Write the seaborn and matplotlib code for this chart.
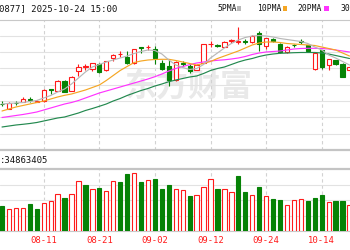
import matplotlib
matplotlib.use("Agg")
import matplotlib.pyplot as plt
import matplotlib.transforms as mtransforms
from matplotlib.patches import Rectangle
import numpy as np
import pandas as pd
import seaborn as sns

# ---------------- data ----------------
dates = ["08-01", "08-04", "08-05", "08-06", "08-07", "08-08",
         "08-11", "08-12", "08-13", "08-14", "08-15",
         "08-18", "08-19", "08-20", "08-21", "08-22",
         "08-25", "08-26", "08-27", "08-28", "08-29",
         "09-01", "09-02", "09-03", "09-04", "09-05",
         "09-08", "09-09", "09-10", "09-11", "09-12",
         "09-15", "09-16", "09-17", "09-18", "09-19",
         "09-22", "09-23", "09-24", "09-25", "09-26",
         "09-29", "09-30", "10-09", "10-10",
         "10-13", "10-14", "10-15", "10-16", "10-17", "10-20"]

opens = [14.65, 14.15, 14.75, 14.85, 15.07, 14.85, 14.87, 16.05, 15.93, 16.93,
         15.93, 17.93, 18.35, 18.13, 18.6, 18.0, 19.17, 19.6, 19.33, 18.7,
         20.25, 20.28, 20.1, 18.75, 18.4, 17.05, 18.7, 18.35, 18.05, 18.75,
         20.6, 20.5, 20.35, 20.9, 20.8, 20.9, 20.8, 21.73, 20.45, 21.07,
         20.63, 19.78, 20.53, 20.85, 20.5, 18.07, 20.0, 18.55, 18.97, 18.63, 18.0]
highs = [14.9, 14.8, 14.95, 15.3, 15.3, 15.0, 16.1, 16.1, 17.0, 17.0,
         17.4, 18.6, 18.65, 18.75, 18.7, 18.95, 19.65, 19.95, 19.95, 20.15,
         20.3, 20.55, 20.4, 19.0, 19.0, 18.9, 18.9, 18.65, 18.6, 20.6,
         20.9, 20.6, 20.9, 21.15, 22.3, 21.15, 21.5, 21.95, 21.25, 21.2,
         20.7, 20.4, 20.65, 21.15, 20.55, 19.7, 20.05, 19.1, 19.05, 18.7, 18.4]
lows = [14.4, 14.1, 14.5, 14.8, 14.8, 14.8, 14.8, 15.65, 15.9, 15.8,
        15.9, 17.4, 18.05, 17.95, 17.7, 17.95, 18.95, 19.3, 18.65, 18.65,
        19.75, 20.0, 18.6, 18.0, 16.4, 16.95, 18.4, 17.7, 18.0, 18.7,
        20.35, 20.3, 20.3, 20.7, 20.6, 20.6, 20.7, 19.9, 20.1, 20.8,
        19.75, 19.7, 20.35, 20.65, 19.8, 18.05, 18.07, 18.0, 18.55, 17.3, 17.9]
closes = [14.6, 14.75, 14.7, 15.15, 15.0, 14.9, 16.0, 15.97, 16.93, 15.85,
          17.33, 18.33, 18.4, 18.67, 17.83, 18.87, 19.5, 19.65, 18.73, 20.1,
          20.2, 20.33, 19.2, 18.1, 17.0, 18.8, 18.65, 17.95, 18.5, 20.57,
          20.65, 20.43, 20.82, 20.95, 20.85, 20.85, 21.4, 20.6, 21.17, 20.9,
          19.8, 20.33, 20.47, 20.8, 19.9, 19.67, 18.33, 19.07, 18.6, 17.33, 18.3]

ma5 = [14.6, 14.65, 14.7, 14.75, 14.85, 14.95, 15.2, 15.45, 15.8, 16.1,
       16.6, 17.2, 17.8, 18.3, 18.55, 18.8, 19.0, 19.2, 19.4, 19.65,
       19.85, 20.0, 19.95, 19.6, 19.0, 18.5, 18.25, 18.05, 18.15, 18.55,
       19.2, 19.7, 20.2, 20.65, 21.0, 21.25, 21.4, 21.45, 21.4, 21.3,
       21.15, 21.05, 20.95, 20.85, 20.65, 20.3, 20.0, 19.5, 19.2, 18.85, 18.5]
ma10 = [13.9, 14.1, 14.3, 14.45, 14.6, 14.75, 14.9, 15.1, 15.3, 15.47,
        15.6, 15.8, 16.0, 16.25, 16.5, 16.95, 17.45, 17.95, 18.35, 18.75,
        18.9, 19.0, 19.05, 19.07, 19.07, 18.95, 18.8, 18.65, 18.5, 18.65,
        18.85, 19.15, 19.4, 19.65, 19.9, 20.2, 20.5, 20.7, 20.8, 20.8,
        20.75, 20.65, 20.6, 20.55, 20.5, 20.45, 20.3, 20.15, 20.0, 19.7, 19.4]
ma20 = [13.25, 13.35, 13.45, 13.55, 13.67, 13.8, 14.0, 14.2, 14.4, 14.6,
        14.75, 14.95, 15.2, 15.45, 15.7, 15.9, 16.1, 16.3, 16.5, 16.7,
        16.9, 17.1, 17.33, 17.6, 17.9, 18.15, 18.35, 18.53, 18.7, 18.8,
        18.9, 18.97, 19.02, 19.1, 19.2, 19.35, 19.55, 19.7, 19.8, 19.85,
        19.9, 20.0, 20.1, 20.15, 20.17, 20.17, 20.15, 20.1, 20.0, 19.9, 19.8]
ma30 = [12.3, 12.4, 12.5, 12.57, 12.65, 12.75, 12.9, 13.05, 13.2, 13.3,
        13.5, 13.7, 13.95, 14.15, 14.37, 14.6, 14.9, 15.15, 15.45, 15.7,
        15.95, 16.15, 16.4, 16.6, 16.83, 17.0, 17.15, 17.3, 17.4, 17.65,
        17.95, 18.15, 18.3, 18.55, 18.8, 19.0, 19.15, 19.35, 19.5, 19.6,
        19.67, 19.7, 19.73, 19.75, 19.75, 19.75, 19.7, 19.6, 19.45, 19.3, 19.15]

volumes = [25.5, 21.7, 23.5, 23.5, 27.5, 21.7, 28, 30, 36.8, 33.3,
           36.8, 49.7, 45.7, 41.7, 42.8, 39.7, 49.7, 49, 57, 57.7,
           49, 50.8, 52.5, 42.5, 46.5, 42.5, 41.5, 34.7, 36.5, 44.3,
           51.7, 41.7, 42, 39.5, 55.4, 38.7, 36, 44, 35.4, 32.4,
           31.4, 26.4, 31.4, 32.4, 30, 33.4, 36, 28.7, 30, 30, 26.4]  # millions
vol_dir = ["g", "r", "r", "r", "g", "g", "r", "r", "r", "g",
           "r", "r", "g", "r", "g", "r", "r", "g", "g", "r",
           "g", "r", "g", "g", "g", "r", "r", "g", "r", "r",
           "r", "g", "r", "r", "g", "g", "r", "g", "r", "g",
           "g", "r", "r", "r", "g", "g", "g", "r", "g", "g", "r"]

tick_labels = ["08-11", "08-21", "09-02", "09-12", "09-24", "10-14"]

header_left = "0877] 2025-10-24 15:00"
legend_names = ["5PMA", "10PMA", "20PMA", "30"]
vol_text = ":34863405"
watermark = "东方财富"

# ---------------- style ----------------
RED = "#ff1a1a"
GREEN = "#068206"
C_MA5 = "#b8b8b8"
C_MA10 = "#f5a623"
C_MA20 = "#ff33ff"
C_MA30 = "#23894f"
GRID = "#e2e2e2"
VGRID = "#d2d2d2"
MONO = "DejaVu Sans Mono"

sns.set_style("white")
plt.rcParams["font.family"] = ["DejaVu Sans", "Noto Sans CJK SC"]

df = pd.DataFrame({"idx": np.arange(len(opens)), "date": dates, "open": opens,
                   "high": highs, "low": lows, "close": closes, "ma5": ma5,
                   "ma10": ma10, "ma20": ma20, "ma30": ma30, "vol": volumes,
                   "vdir": vol_dir})
tick_index = [dates.index(t) for t in tick_labels]

W, H = 350, 250
fig = plt.figure(figsize=(3.5, 2.5), dpi=100)
ax = fig.add_axes([0, 1 - 150 / H, 1, 130.5 / H])
axv = fig.add_axes([0, 1 - 231 / H, 1, 62 / H])

XLIM = (-0.29, 50.07)
YLIM = (10.0, 23.05)

for a in (ax, axv):
    a.set_xlim(*XLIM)
    a.set_facecolor("white")
    for s in ("left", "right"):
        a.spines[s].set_visible(False)
    a.tick_params(length=0, labelbottom=False, labelleft=False)
    a.set_xticks(tick_index)
    a.grid(axis="x", color=VGRID, lw=0.8, ls=(0, (3, 2.5)))
    a.grid(axis="y", color=GRID, lw=0.8)
    a.set_axisbelow(True)

ax.set_ylim(*YLIM)
ax.set_yticks(np.linspace(YLIM[0], YLIM[1], 9)[1:-1])
ax.spines["top"].set_color("#c8c8c8")
ax.spines["top"].set_linewidth(0.8)
ax.spines["bottom"].set_color("#c4c4c4")
ax.spines["bottom"].set_linewidth(1.6)

axv.set_ylim(0, 62)
axv.set_yticks([15.5, 31, 46.5])
axv.spines["top"].set_color("#c4c4c4")
axv.spines["top"].set_linewidth(1.6)
axv.spines["bottom"].set_color("#c8c8c8")
axv.spines["bottom"].set_linewidth(0.8)

# watermark
ax.text(26.8, 16.2, watermark, ha="center", va="center", fontsize=23,
        fontweight="bold", color="#e9e9e9", family=["Noto Sans CJK SC"],
        style="italic", zorder=0.5)

# candles
up = df["close"] >= df["open"]
ccol = np.where(up, RED, GREEN)
ax.vlines(df["idx"], df["low"], df["high"], colors=ccol, lw=0.8, zorder=2)
body_lo = np.minimum(df["open"], df["close"])
body_h = np.maximum(np.abs(df["close"] - df["open"]), 0.04)
ax.bar(df["idx"], body_h, bottom=body_lo, width=0.62,
       color=np.where(up, "white", GREEN), edgecolor=ccol, lw=0.8, zorder=3)

# moving averages
for col, c in (("ma30", C_MA30), ("ma20", C_MA20), ("ma10", C_MA10), ("ma5", C_MA5)):
    sns.lineplot(data=df, x="idx", y=col, ax=ax, color=c, lw=0.85,
                 legend=False, zorder=4)
ax.set_xlabel("")
ax.set_ylabel("")

# volume
vup = df["vdir"] == "r"
vcol = np.where(vup, RED, GREEN)
axv.bar(df["idx"], df["vol"], width=0.62, color=np.where(vup, "white", GREEN),
        edgecolor=vcol, lw=0.8, zorder=3)
axv.set_xlabel("")
axv.set_ylabel("")

# date labels under volume panel
tr = mtransforms.blended_transform_factory(axv.transData, fig.transFigure)
for t, lab in zip(tick_index, tick_labels):
    axv.text(t, 1 - 240.5 / H, lab, transform=tr, ha="center", va="center",
             fontsize=6.4, color=RED, family=MONO, clip_on=False)

# header
fig.text(-1 / W, 1 - 8.5 / H, header_left, ha="left", va="center",
         fontsize=6.4, color="#111111", family=MONO)
leg_x = [218, 256.7, 297.7, 341]
sw_x = [236.7, 283, 324.3]
sw_c = [C_MA5, C_MA10, C_MA20]
for x, name in zip(leg_x, legend_names):
    fig.text(x / W, 1 - 8.5 / H, name, ha="left", va="center",
             fontsize=5.8, color="#111111", family=MONO)
for x, c in zip(sw_x, sw_c):
    fig.add_artist(Rectangle((x / W, 1 - 10.5 / H), 4.2 / W, 4 / H,
                             transform=fig.transFigure, color=c, lw=0))

fig.text(0, 1 - 160.5 / H, vol_text, ha="left", va="center",
         fontsize=6.4, color="#111111", family=MONO)

fig.savefig("out.png", dpi=100, facecolor="white")
